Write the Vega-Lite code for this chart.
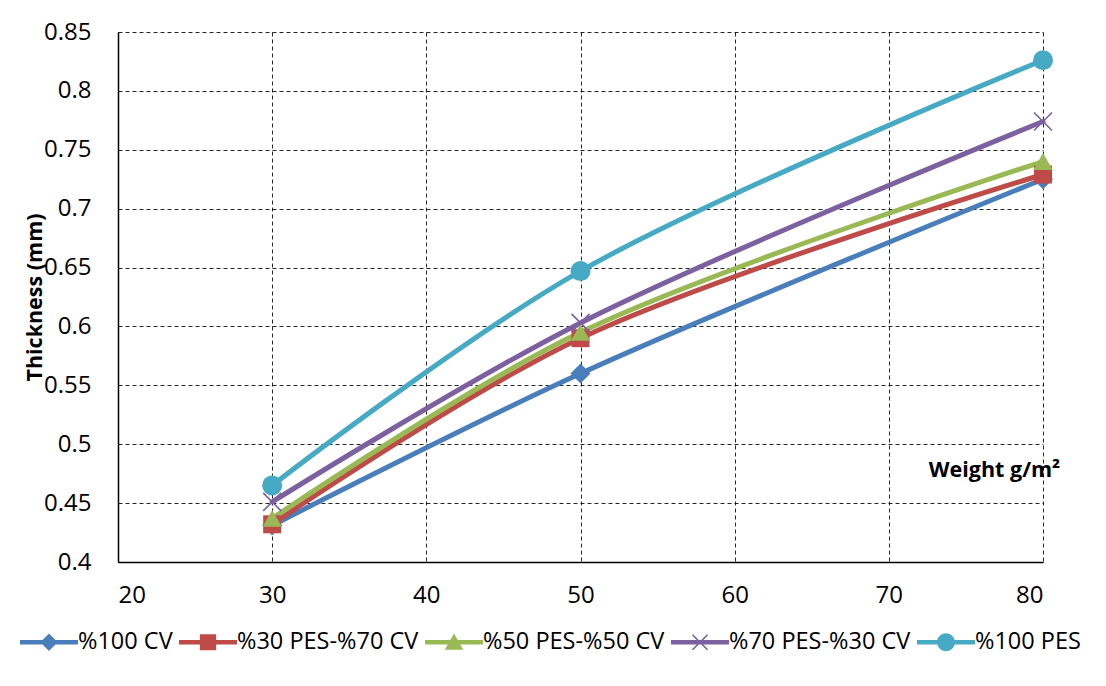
{
  "$schema": "https://vega.github.io/schema/vega-lite/v6.json",
  "width": 925,
  "height": 530,
  "autosize": "none",
  "padding": {"left": 118, "top": 32, "right": 63, "bottom": 124},
  "background": "white",
  "config": {"view": {"stroke": null}, "font": "Open Sans"},
  "data": {
    "values": [
      {"series": "%100 CV", "weight": 30, "thickness": 0.431},
      {"series": "%100 CV", "weight": 50, "thickness": 0.560},
      {"series": "%100 CV", "weight": 80, "thickness": 0.725},
      {"series": "%30 PES-%70 CV", "weight": 30, "thickness": 0.432},
      {"series": "%30 PES-%70 CV", "weight": 50, "thickness": 0.590},
      {"series": "%30 PES-%70 CV", "weight": 80, "thickness": 0.729},
      {"series": "%50 PES-%50 CV", "weight": 30, "thickness": 0.437},
      {"series": "%50 PES-%50 CV", "weight": 50, "thickness": 0.595},
      {"series": "%50 PES-%50 CV", "weight": 80, "thickness": 0.740},
      {"series": "%70 PES-%30 CV", "weight": 30, "thickness": 0.451},
      {"series": "%70 PES-%30 CV", "weight": 50, "thickness": 0.603},
      {"series": "%70 PES-%30 CV", "weight": 80, "thickness": 0.774},
      {"series": "%100 PES", "weight": 30, "thickness": 0.465},
      {"series": "%100 PES", "weight": 50, "thickness": 0.647},
      {"series": "%100 PES", "weight": 80, "thickness": 0.826}
    ]
  },
  "encoding": {
    "x": {
      "field": "weight", "type": "quantitative",
      "scale": {"domain": [20, 80], "nice": false, "zero": false},
      "axis": {
        "values": [20, 30, 40, 50, 60, 70, 80],
        "grid": true, "gridDash": [4, 3], "gridColor": "#000000", "gridWidth": 1, "gridOpacity": 0.85,
        "domain": true, "domainColor": "#000000", "domainWidth": 1.5,
        "ticks": false,
        "labelFontSize": 24, "labelColor": "#000000", "labelPadding": 21,
        "title": "Weight g/m²", "titleFontSize": 21.5, "titleFontWeight": "bold", "titleColor": "#000000",
        "titleX": 876, "titleY": -92, "titleAlign": "center", "titleBaseline": "middle"
      }
    },
    "y": {
      "field": "thickness", "type": "quantitative",
      "scale": {"domain": [0.4, 0.85], "nice": false, "zero": false},
      "axis": {
        "values": [0.4, 0.45, 0.5, 0.55, 0.6, 0.65, 0.7, 0.75, 0.8, 0.85],
        "format": "~g",
        "grid": true, "gridDash": [4, 3], "gridColor": "#000000", "gridWidth": 1, "gridOpacity": 0.85,
        "domain": true, "domainColor": "#000000", "domainWidth": 1.5,
        "ticks": false,
        "labelFontSize": 24, "labelColor": "#000000", "labelPadding": 27,
        "title": "Thickness (mm)", "titleFontSize": 21.5, "titleFontWeight": "bold", "titleColor": "#000000",
        "titleAngle": 270, "titleX": -83, "titleY": 265, "titleAlign": "center", "titleBaseline": "middle"
      }
    }
  },
  "layer": [
    {
      "mark": {"type": "line", "interpolate": "catmull-rom", "strokeWidth": 5, "strokeCap": "round"},
      "encoding": {
        "color": {
          "field": "series", "type": "nominal",
          "scale": {
            "domain": ["%100 CV", "%30 PES-%70 CV", "%50 PES-%50 CV", "%70 PES-%30 CV", "%100 PES"],
            "range": ["#4A7EBB", "#BE4B48", "#98B954", "#7D60A0", "#46AAC5"]
          },
          "legend": {
            "orient": "none", "legendX": -98, "legendY": 581,
            "direction": "horizontal", "columns": 5, "columnPadding": 6,
            "title": null, "symbolSize": 3364, "labelFontSize": 23.5, "labelColor": "#000000",
            "labelOffset": 0, "labelLimit": 400, "symbolStrokeWidth": 0,
            "encode": {
              "symbols": {
                "update": {
                  "fill": {"scale": "color", "field": "value"},
                  "strokeWidth": {"value": 0},
                  "opacity": {"value": 1},
                  "shape": {"signal": "datum.value==='%100 CV'?'M-1,-0.075H1V0.075H-1Z M0,-0.3L0.3,0L0,0.3L-0.3,0Z':datum.value==='%30 PES-%70 CV'?'M-1,-0.075H1V0.075H-1Z M-0.28,-0.28H0.28V0.28H-0.28Z':datum.value==='%50 PES-%50 CV'?'M-1,-0.075H1V0.075H-1Z M0,-0.3L0.32,0.26H-0.32Z':datum.value==='%70 PES-%30 CV'?'M-1,-0.075H1V0.075H-1Z M-0.24,-0.28L0.28,0.24L0.24,0.28L-0.28,-0.24Z M-0.28,0.24L0.24,-0.28L0.28,-0.24L-0.24,0.28Z':'M-1,-0.075H1V0.075H-1Z M0.31,0A0.31,0.31 0 1 1 -0.31,0A0.31,0.31 0 1 1 0.31,0Z'"}
                }
              }
            }
          }
        }
      }
    },
    {
      "transform": [{"filter": "datum.series === '%100 CV'"}],
      "mark": {"type": "point", "filled": true, "size": 400, "opacity": 1, "shape": "diamond", "color": "#4A7EBB"}
    },
    {
      "transform": [{"filter": "datum.series === '%30 PES-%70 CV'"}],
      "mark": {"type": "point", "filled": true, "size": 324, "opacity": 1, "shape": "square", "color": "#BE4B48"}
    },
    {
      "transform": [{"filter": "datum.series === '%50 PES-%50 CV'"}],
      "mark": {"type": "point", "filled": true, "size": 380, "opacity": 1, "shape": "triangle-up", "color": "#98B954"}
    },
    {
      "transform": [{"filter": "datum.series === '%70 PES-%30 CV'"}],
      "mark": {"type": "point", "filled": true, "size": 400, "opacity": 1, "shape": "M-0.843,-0.957L0.957,0.843L0.843,0.957L-0.957,-0.843Z M-0.957,0.843L0.843,-0.957L0.957,-0.843L-0.843,0.957Z", "color": "#7D60A0"}
    },
    {
      "transform": [{"filter": "datum.series === '%100 PES'"}],
      "mark": {"type": "point", "filled": true, "size": 400, "opacity": 1, "shape": "circle", "color": "#46AAC5"}
    }
  ]
}
